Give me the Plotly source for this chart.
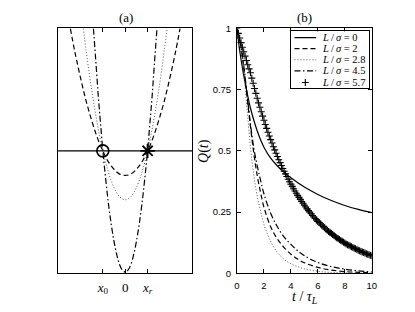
import plotly.graph_objects as go

# ---------------- Panel (a): potentials ----------------
a_tick_vals = [-1, 0, 1]
a_tick_text = ["<i>x</i><sub>0</sub>", "0", "<i>x</i><sub><i>r</i></sub>"]

a_x_dashed = [-2.45, -2.25, -2.0, -1.75, -1.5, -1.25, -1.0, -0.75, -0.5, -0.25, 0.0,
              0.25, 0.5, 0.75, 1.0, 1.25, 1.5, 1.75, 2.0, 2.25, 2.45]
a_y_dashed = [2.0, 1.81, 1.6, 1.41, 1.25, 1.11, 1.0, 0.91, 0.85, 0.81, 0.8,
              0.81, 0.85, 0.91, 1.0, 1.11, 1.25, 1.41, 1.6, 1.81, 2.0]
a_x_dotted = [-1.87, -1.75, -1.5, -1.25, -1.0, -0.75, -0.5, -0.25, 0.0,
              0.25, 0.5, 0.75, 1.0, 1.25, 1.5, 1.75, 1.87]
a_y_dotted = [2.0, 1.825, 1.5, 1.225, 1.0, 0.825, 0.7, 0.625, 0.6,
              0.625, 0.7, 0.825, 1.0, 1.225, 1.5, 1.825, 2.0]
a_x_dashdot = [-1.42, -1.3, -1.2, -1.1, -1.0, -0.875, -0.75, -0.625, -0.5, -0.375, -0.25, -0.125, 0.0,
               0.125, 0.25, 0.375, 0.5, 0.625, 0.75, 0.875, 1.0, 1.1, 1.2, 1.3, 1.42]
a_y_dashdot = [2.0, 1.7, 1.44, 1.22, 1.0, 0.775, 0.57, 0.4, 0.26, 0.15, 0.07, 0.025, 0.01,
               0.025, 0.07, 0.15, 0.26, 0.4, 0.57, 0.775, 1.0, 1.22, 1.44, 1.7, 2.0]
a_hline_x = [-3, 3]
a_hline_y = [1, 1]
a_x0_point = ([-1], [1])
a_xr_point = ([1], [1])

# ---------------- Panel (b): Q(t) ----------------
TS = "\u2009"
series_names = [f"<i>L</i>{TS}/{TS}<i>σ</i> = 0", f"<i>L</i>{TS}/{TS}<i>σ</i> = 2",
                f"<i>L</i>{TS}/{TS}<i>σ</i> = 2.8", f"<i>L</i>{TS}/{TS}<i>σ</i> = 4.5",
                f"<i>L</i>{TS}/{TS}<i>σ</i> = 5.7"]

t_solid = [0, 0.2, 0.4, 0.6, 0.8, 1.0, 1.25, 1.5, 1.75, 2.0, 2.5, 3.0, 3.5, 4.0, 5.0, 6.0, 7.0, 8.0, 9.0, 10.0]
q_L0 = [1.0, 0.91, 0.84, 0.78, 0.725, 0.675, 0.625, 0.582, 0.545, 0.515, 0.47, 0.438, 0.412, 0.39,
        0.352, 0.322, 0.297, 0.277, 0.261, 0.248]

t_b = [0, 0.25, 0.5, 0.75, 1.0, 1.25, 1.5, 1.75, 2.0, 2.5, 3.0, 3.5, 4.0, 4.5, 5.0, 6.0, 7.0, 8.0, 9.0, 10.0]
q_L2 = [1.0, 0.94, 0.84, 0.72, 0.6, 0.49, 0.40, 0.33, 0.27, 0.19, 0.14, 0.105, 0.078, 0.058, 0.043,
        0.024, 0.013, 0.007, 0.004, 0.002]
q_L28 = [1.0, 0.93, 0.82, 0.67, 0.515, 0.40, 0.315, 0.255, 0.20, 0.13, 0.085, 0.057, 0.039, 0.027,
         0.018, 0.008, 0.0035, 0.0015, 0.0007, 0.0003]
q_L45 = [1.0, 0.945, 0.85, 0.73, 0.61, 0.51, 0.44, 0.38, 0.325, 0.245, 0.19, 0.148, 0.118, 0.092,
         0.072, 0.044, 0.027, 0.017, 0.010, 0.006]

t_plus = [0.0, 0.1, 0.2, 0.3, 0.4, 0.5, 0.6, 0.7, 0.8, 0.9,
          1.0, 1.1, 1.2, 1.3, 1.4, 1.5, 1.6, 1.7, 1.8, 1.9,
          2.0, 2.1, 2.2, 2.3, 2.4, 2.5, 2.6, 2.7, 2.8, 2.9,
          3.0, 3.1, 3.2, 3.3, 3.4, 3.5, 3.6, 3.7, 3.8, 3.9,
          4.0, 4.1, 4.2, 4.3, 4.4, 4.5, 4.6, 4.7, 4.8, 4.9,
          5.0, 5.1, 5.2, 5.3, 5.4, 5.5, 5.6, 5.7, 5.8, 5.9,
          6.0, 6.1, 6.2, 6.3, 6.4, 6.5, 6.6, 6.7, 6.8, 6.9,
          7.0, 7.1, 7.2, 7.3, 7.4, 7.5, 7.6, 7.7, 7.8, 7.9,
          8.0, 8.1, 8.2, 8.3, 8.4, 8.5, 8.6, 8.7, 8.8, 8.9,
          9.0, 9.1, 9.2, 9.3, 9.4, 9.5, 9.6, 9.7, 9.8, 9.9, 10.0]
q_L57 = [1.000, 0.980, 0.961, 0.942, 0.923, 0.905, 0.887, 0.869, 0.852, 0.835,
         0.819, 0.797, 0.776, 0.755, 0.735, 0.715, 0.696, 0.678, 0.660, 0.642,
         0.625, 0.608, 0.592, 0.576, 0.561, 0.546, 0.532, 0.517, 0.504, 0.490,
         0.477, 0.464, 0.452, 0.440, 0.428, 0.417, 0.406, 0.395, 0.384, 0.374,
         0.364, 0.355, 0.345, 0.336, 0.327, 0.318, 0.310, 0.302, 0.293, 0.286,
         0.278, 0.271, 0.263, 0.256, 0.250, 0.243, 0.236, 0.230, 0.224, 0.218,
         0.212, 0.207, 0.201, 0.196, 0.191, 0.186, 0.181, 0.176, 0.171, 0.167,
         0.162, 0.158, 0.154, 0.149, 0.145, 0.142, 0.138, 0.134, 0.131, 0.127,
         0.124, 0.120, 0.117, 0.114, 0.111, 0.108, 0.105, 0.102, 0.100, 0.097,
         0.094, 0.092, 0.089, 0.087, 0.085, 0.083, 0.080, 0.078, 0.076, 0.074, 0.072]

b_xticks = [0, 2, 4, 6, 8, 10]
b_yticks = [0, 0.25, 0.5, 0.75, 1]
b_yticktext = ["0", "0.25", "0.5", "0.75", "1"]

# ---------------- styles / layout helpers ----------------
DASH = "5px,3px"
DOT = "1px,2px"
DASHDOT = "6px,2.5px,1.5px,2.5px"
SERIF = "Liberation Serif"
SANS = "Liberation Sans"

W, H, OFF = 407, 304, 8   # page body margin of 8px is compensated


def PX(px):
    return (px - OFF) / W


def PY(py):
    return 1 - (py - OFF) / H


fig = go.Figure()

# Panel (a)
fig.add_trace(go.Scatter(x=a_x_dashed, y=a_y_dashed, mode="lines", line_shape="spline",
                         line=dict(color="black", width=1.2, dash=DASH), xaxis="x", yaxis="y"))
fig.add_trace(go.Scatter(x=a_x_dotted, y=a_y_dotted, mode="lines", line_shape="spline",
                         line=dict(color="#555", width=1, dash=DOT), xaxis="x", yaxis="y"))
fig.add_trace(go.Scatter(x=a_x_dashdot, y=a_y_dashdot, mode="lines", line_shape="spline",
                         line=dict(color="black", width=1.2, dash=DASHDOT), xaxis="x", yaxis="y"))
fig.add_trace(go.Scatter(x=a_hline_x, y=a_hline_y, mode="lines",
                         line=dict(color="black", width=1.4), xaxis="x", yaxis="y"))
fig.add_trace(go.Scatter(x=a_x0_point[0], y=a_x0_point[1], mode="markers",
                         marker=dict(symbol="circle-open", size=12, color="black", line=dict(width=1.6)),
                         xaxis="x", yaxis="y"))
fig.add_trace(go.Scatter(x=a_xr_point[0], y=a_xr_point[1], mode="markers",
                         marker=dict(symbol="asterisk-open", size=12, color="black", line=dict(width=1.8)),
                         xaxis="x", yaxis="y"))

# Panel (b)
b_styles = [
    (t_solid, q_L0, dict(color="black", width=1.2)),
    (t_b, q_L2, dict(color="black", width=1.2, dash=DASH)),
    (t_b, q_L28, dict(color="#555", width=1, dash=DOT)),
    (t_b, q_L45, dict(color="black", width=1.2, dash=DASHDOT)),
]
for tx, qy, ln in b_styles:
    fig.add_trace(go.Scatter(x=tx, y=qy, mode="lines", line_shape="spline", line=ln,
                             xaxis="x2", yaxis="y2"))
PLUS = dict(symbol="cross-thin", size=5, color="black", line=dict(width=1.1, color="black"))
fig.add_trace(go.Scatter(x=t_plus, y=q_L57, mode="markers", marker=PLUS, xaxis="x2", yaxis="y2"))

# Legend drawn on a small overlay axis
leg_rows = [0.89, 0.695, 0.5, 0.305, 0.10]
leg_line_x = [0.04, 0.32]
leg_styles = [dict(color="black", width=1.2), dict(color="black", width=1.2, dash=DASH),
              dict(color="#555", width=1, dash=DOT), dict(color="black", width=1.2, dash=DASHDOT)]
for yy, ln in zip(leg_rows[:4], leg_styles):
    fig.add_trace(go.Scatter(x=leg_line_x, y=[yy, yy], mode="lines", line=ln, xaxis="x3", yaxis="y3"))
fig.add_trace(go.Scatter(x=[0.18], y=[leg_rows[4]], mode="markers", marker=PLUS, xaxis="x3", yaxis="y3"))

annotations = []
for yy, name in zip(leg_rows, series_names):
    annotations.append(dict(x=0.37, y=yy, xref="x3", yref="y3", text=name, showarrow=False,
                            xanchor="left", yanchor="middle", font=dict(family=SERIF, size=10.5, color="black")))

# Titles and axis labels
annotations += [
    dict(x=PX(125), y=PY(12), xref="paper", yref="paper", text="(a)", showarrow=False,
         xanchor="center", yanchor="middle", font=dict(family=SERIF, size=13, color="black")),
    dict(x=PX(307), y=PY(12), xref="paper", yref="paper", text="(b)", showarrow=False,
         xanchor="center", yanchor="middle", font=dict(family=SERIF, size=13, color="black")),
    dict(x=PX(205), y=PY(150), xref="paper", yref="paper", text="<i>Q</i>(<i>t</i>)",
         showarrow=False, textangle=-90, xanchor="center", yanchor="middle",
         font=dict(family=SERIF, size=14, color="black")),
    dict(x=PX(307), y=PY(302), xref="paper", yref="paper",
         text="<i>t</i> / <i>τ</i><sub><i>L</i></sub>", showarrow=False, xanchor="center", yanchor="middle",
         font=dict(family=SERIF, size=14, color="black")),
]

ax_common = dict(showline=True, linecolor="black", linewidth=0.8, mirror="ticks", ticks="inside",
                 ticklen=4, tickcolor="black", tickwidth=0.8, showgrid=False, zeroline=False)

fig.update_layout(
    width=W, height=H, margin=dict(l=0, r=0, t=0, b=0),
    plot_bgcolor="white", paper_bgcolor="white", showlegend=False,
    xaxis=dict(domain=[PX(56), PX(193)], range=[-3, 3], anchor="y",
               tickmode="array", tickvals=a_tick_vals, ticktext=a_tick_text,
               tickfont=dict(family=SERIF, size=13, color="black"), ticklabelstandoff=2, **ax_common),
    yaxis=dict(domain=[PY(277), PY(23)], range=[0, 2], anchor="x",
               showline=True, linecolor="black", linewidth=0.8, mirror=True, ticks="",
               showticklabels=False, showgrid=False, zeroline=False),
    xaxis2=dict(domain=[PX(238.5), PX(376)], range=[0, 10], anchor="y2",
                tickmode="array", tickvals=b_xticks,
                tickfont=dict(family=SANS, size=9.5, color="black"), ticklabelstandoff=3, **ax_common),
    yaxis2=dict(domain=[PY(277), PY(23)], range=[0, 1], anchor="x2",
                tickmode="array", tickvals=b_yticks, ticktext=b_yticktext,
                tickfont=dict(family=SANS, size=9.5, color="black"), ticklabelstandoff=3, **ax_common),
    xaxis3=dict(domain=[PX(294), PX(373)], range=[0, 1], anchor="y3", showline=True, mirror=True,
                linecolor="black", linewidth=0.8, showticklabels=False, ticks="", showgrid=False,
                zeroline=False, fixedrange=True),
    yaxis3=dict(domain=[PY(85), PY(26)], range=[0, 1], anchor="x3", showline=True, mirror=True,
                linecolor="black", linewidth=0.8, showticklabels=False, ticks="", showgrid=False,
                zeroline=False, fixedrange=True),
    annotations=annotations,
)

fig.write_html("out.html")
